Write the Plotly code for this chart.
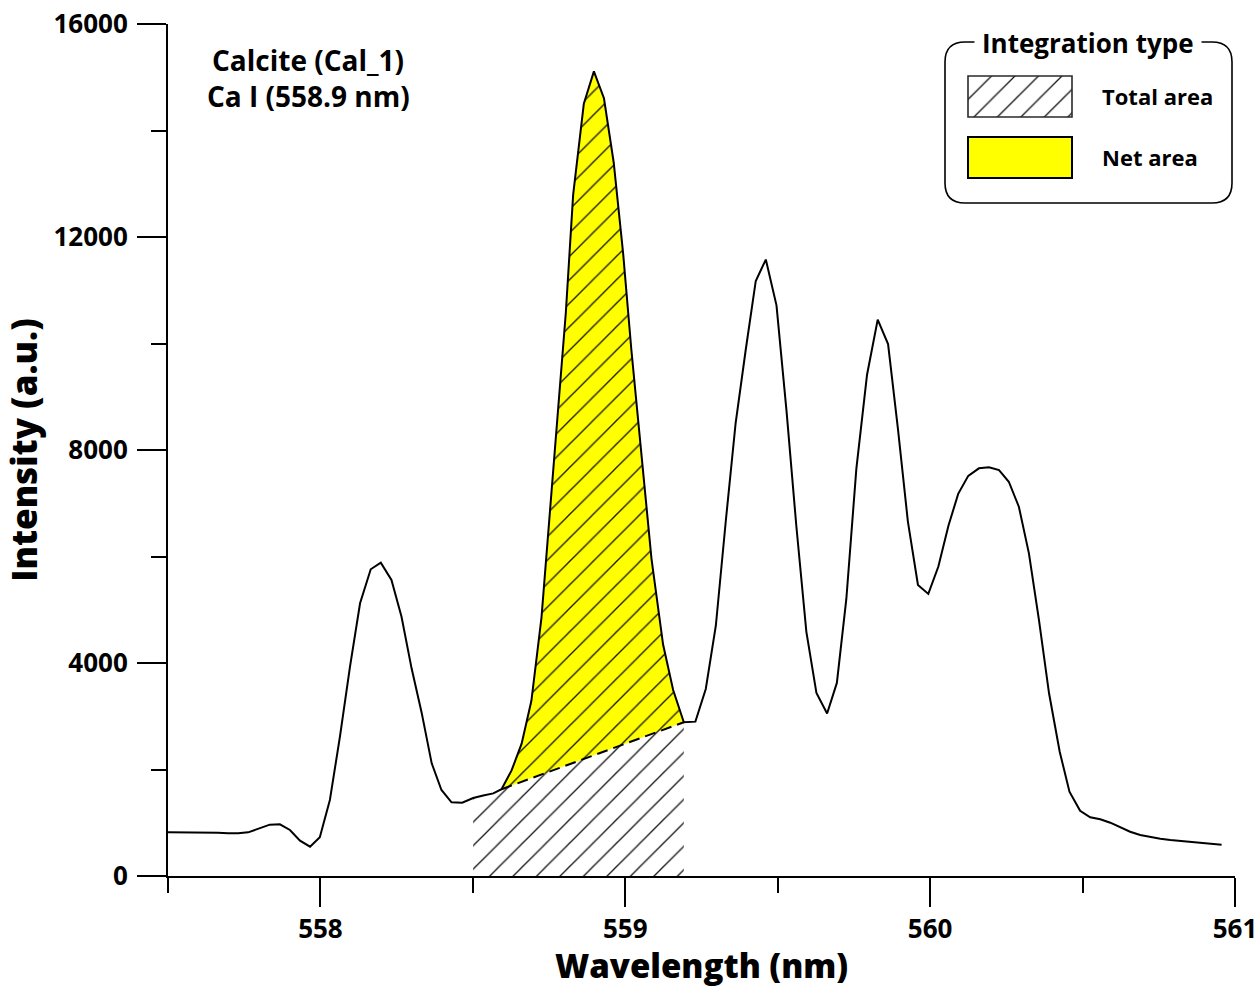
import plotly.graph_objects as go

# ---------------- data ----------------
wavelength = [
    557.500, 557.533, 557.566, 557.598, 557.631, 557.664, 557.697, 557.730, 557.763, 557.802,
    557.834, 557.867, 557.900, 557.933, 557.966, 557.998, 558.031, 558.064, 558.097, 558.130,
    558.165, 558.198, 558.233, 558.266, 558.299, 558.332, 558.365, 558.397, 558.430, 558.465,
    558.501, 558.534, 558.567, 558.594, 558.627, 558.660, 558.692, 558.725, 558.752, 558.780,
    558.805, 558.829, 558.864, 558.897, 558.930, 558.962, 558.993, 559.020, 559.053, 559.086,
    559.124, 559.157, 559.192, 559.230, 559.264, 559.297, 559.330, 559.362, 559.395, 559.428,
    559.461, 559.496, 559.529, 559.561, 559.594, 559.627, 559.662, 559.694, 559.725, 559.758,
    559.793, 559.828, 559.862, 559.894, 559.927, 559.960, 559.994, 560.027, 560.060, 560.092,
    560.125, 560.160, 560.193, 560.226, 560.258, 560.291, 560.324, 560.357, 560.390, 560.425,
    560.457, 560.492, 560.525, 560.558, 560.591, 560.624, 560.656, 560.689, 560.722, 560.755,
    560.788, 560.820, 560.853, 560.886, 560.919, 560.956,
]
intensity = [
    820, 820, 820, 820, 820, 812, 805, 802, 820, 896,
    964, 970, 864, 663, 550, 727, 1427, 2616, 3930, 5121,
    5760, 5883, 5559, 4869, 3900, 3067, 2116, 1615, 1384, 1377,
    1465, 1512, 1551, 1630, 1983, 2486, 3290, 4849, 6760, 8772,
    10582, 12796, 14505, 15110, 14606, 13399, 11690, 9878, 7868, 5957,
    4347, 3493, 2888, 2899, 3512, 4700, 6685, 8507, 9878, 11174,
    11576, 10717, 8725, 6578, 4586, 3437, 3052, 3626, 5198, 7651,
    9414, 10449, 9989, 8417, 6655, 5467, 5298, 5812, 6578, 7176,
    7514, 7656, 7675, 7624, 7404, 6935, 6060, 4807, 3431, 2334,
    1583, 1226, 1102, 1065, 1001, 915, 832, 770, 732, 700,
    676, 657, 638, 620, 607, 588,
]

total_window = [558.500, 559.192]   # total-area integration limits (nm)
net_window = [558.594, 559.192]     # net-area integration limits (nm)

x_ticks = [558, 559, 560, 561]
y_ticks = [0, 4000, 8000, 12000, 16000]

sample_label = "Calcite (Cal_1)"
line_label = "Ca I (558.9 nm)"
legend_title = "Integration type"
legend_items = ["Total area", "Net area"]

# ---------------- derived subsets ----------------
eps = 1e-6
tot_x = [x for x in wavelength if total_window[0] - eps <= x <= total_window[1] + eps]
tot_y = [y for x, y in zip(wavelength, intensity) if total_window[0] - eps <= x <= total_window[1] + eps]
net_x = [x for x in wavelength if net_window[0] - eps <= x <= net_window[1] + eps]
net_y = [y for x, y in zip(wavelength, intensity) if net_window[0] - eps <= x <= net_window[1] + eps]

FONT = "Open Sans"
W, H = 1258, 988
ML, MR, MT, MB = 168, 23, 24, 112
PW, PH = W - ML - MR, H - MT - MB

HATCH = dict(shape="/", size=16.6, solidity=0.08, fgopacity=1,
             fgcolor="#151515", bgcolor="rgba(0,0,0,0)")


def px(xp):
    """page pixel x -> paper fraction"""
    return (xp - ML) / PW


def py(yp):
    """page pixel y -> paper fraction"""
    return (H - MB - yp) / PH


fig = go.Figure()

# Net area (yellow), closed along the straight baseline
fig.add_trace(go.Scatter(
    x=net_x + [net_x[0]], y=net_y + [net_y[0]],
    mode="none", fill="toself", fillcolor="#ffff00",
    showlegend=False, hoverinfo="skip",
))
# Total area (hatched)
fig.add_trace(go.Scatter(
    x=tot_x, y=tot_y, mode="none", fill="tozeroy",
    fillcolor="rgba(0,0,0,0)", fillpattern=HATCH,
    showlegend=False, hoverinfo="skip",
))
# Baseline (dashed)
fig.add_trace(go.Scatter(
    x=[net_x[0], net_x[-1]], y=[net_y[0], net_y[-1]],
    mode="lines", line=dict(color="black", width=2, dash="11px,6px"),
    showlegend=False, hoverinfo="skip",
))
# Spectrum
fig.add_trace(go.Scatter(
    x=wavelength, y=intensity, mode="lines",
    line=dict(color="black", width=2),
    showlegend=False,
))

# Legend swatch for the hatched "Total area" (inset axes)
sw_x0, sw_x1, sw_y0, sw_y1 = 968, 1072, 76, 117
fig.add_trace(go.Scatter(
    x=[0, 1, 1, 0, 0], y=[0, 0, 1, 1, 0], xaxis="x2", yaxis="y2",
    mode="none", fill="toself", fillcolor="rgba(0,0,0,0)",
    fillpattern=HATCH,
    showlegend=False, hoverinfo="skip",
))

axis_common = dict(
    showline=True, linecolor="black", linewidth=2, mirror=False,
    ticks="outside", ticklen=29, tickwidth=2, tickcolor="black",
    showgrid=False, zeroline=False, automargin=False,
    ticklabeloverflow="allow",
    tickfont=dict(family=FONT, size=26, color="black", weight=700),
)

fig.update_layout(
    width=W, height=H,
    margin=dict(l=ML, r=MR, t=MT, b=MB),
    paper_bgcolor="white", plot_bgcolor="white",
    xaxis=dict(
        range=[557.5, 561], tickvals=x_ticks, ticktext=[str(v) for v in x_ticks],
        minor=dict(dtick=0.5, tick0=557.5, ticks="outside", ticklen=15, tickwidth=2, tickcolor="black"),
        ticklabelstandoff=0,
        title=dict(text="Wavelength (nm)", standoff=11,
                   font=dict(family=FONT, size=33, color="black", weight=800)),
        **axis_common,
    ),
    yaxis=dict(
        range=[0, 16000], tickvals=y_ticks, ticktext=[str(v) for v in y_ticks],
        minor=dict(dtick=2000, ticks="outside", ticklen=15, tickwidth=2, tickcolor="black"),
        ticklabelstandoff=4,
        title=dict(text="Intensity (a.u.)", standoff=19,
                   font=dict(family=FONT, size=35, color="black", weight=800)),
        **axis_common,
    ),
    xaxis2=dict(domain=[px(sw_x0), px(sw_x1)], range=[0, 1], anchor="y2",
                visible=False, fixedrange=True),
    yaxis2=dict(domain=[py(sw_y1), py(sw_y0)], range=[0, 1], anchor="x2",
                visible=False, fixedrange=True),
)

# Legend box (rounded rectangle)
bx0, bx1, by0, by1, r = 945, 1232, 42, 203, 20


def rounded_path(x0, x1, y0, y1, rr):
    pts = [
        f"M {px(x0 + rr)},{py(y0)}",
        f"L {px(x1 - rr)},{py(y0)}",
        f"Q {px(x1)},{py(y0)} {px(x1)},{py(y0 + rr)}",
        f"L {px(x1)},{py(y1 - rr)}",
        f"Q {px(x1)},{py(y1)} {px(x1 - rr)},{py(y1)}",
        f"L {px(x0 + rr)},{py(y1)}",
        f"Q {px(x0)},{py(y1)} {px(x0)},{py(y1 - rr)}",
        f"L {px(x0)},{py(y0 + rr)}",
        f"Q {px(x0)},{py(y0)} {px(x0 + rr)},{py(y0)}",
        "Z",
    ]
    return " ".join(pts)


fig.add_shape(type="path", path=rounded_path(bx0, bx1, by0, by1, r),
              xref="paper", yref="paper", line=dict(color="black", width=1.6),
              fillcolor="white", layer="below")
# swatch outlines
fig.add_shape(type="rect", xref="paper", yref="paper",
              x0=px(sw_x0), x1=px(sw_x1), y0=py(sw_y1), y1=py(sw_y0),
              line=dict(color="#2a2a2a", width=1.6))
fig.add_shape(type="rect", xref="paper", yref="paper",
              x0=px(968), x1=px(1072), y0=py(178), y1=py(137),
              line=dict(color="black", width=2), fillcolor="#ffff00")

fig.add_annotation(text=legend_title, xref="paper", yref="paper",
                   x=px(1088), y=py(43), xanchor="center", yanchor="middle",
                   showarrow=False, bgcolor="white", borderpad=7,
                   font=dict(family=FONT, size=26, color="black", weight=700))
fig.add_annotation(text=legend_items[0], xref="paper", yref="paper",
                   x=px(1100), y=py(96), xanchor="left", yanchor="middle",
                   showarrow=False,
                   font=dict(family=FONT, size=22, color="black", weight=700))
fig.add_annotation(text=legend_items[1], xref="paper", yref="paper",
                   x=px(1100), y=py(157), xanchor="left", yanchor="middle",
                   showarrow=False,
                   font=dict(family=FONT, size=22, color="black", weight=700))

fig.add_annotation(text=sample_label, xref="paper", yref="paper",
                   x=px(308), y=py(60), xanchor="center", yanchor="middle",
                   showarrow=False,
                   font=dict(family=FONT, size=28, color="black", weight=700))
fig.add_annotation(text=line_label, xref="paper", yref="paper",
                   x=px(308), y=py(96), xanchor="center", yanchor="middle",
                   showarrow=False,
                   font=dict(family=FONT, size=28, color="black", weight=700))

# remove the default 8px page margin so the figure sits at the window origin
fig.write_html("out.html", config={"displayModeBar": False},
               post_script="document.body.style.margin='0px';document.body.style.overflow='hidden';")
